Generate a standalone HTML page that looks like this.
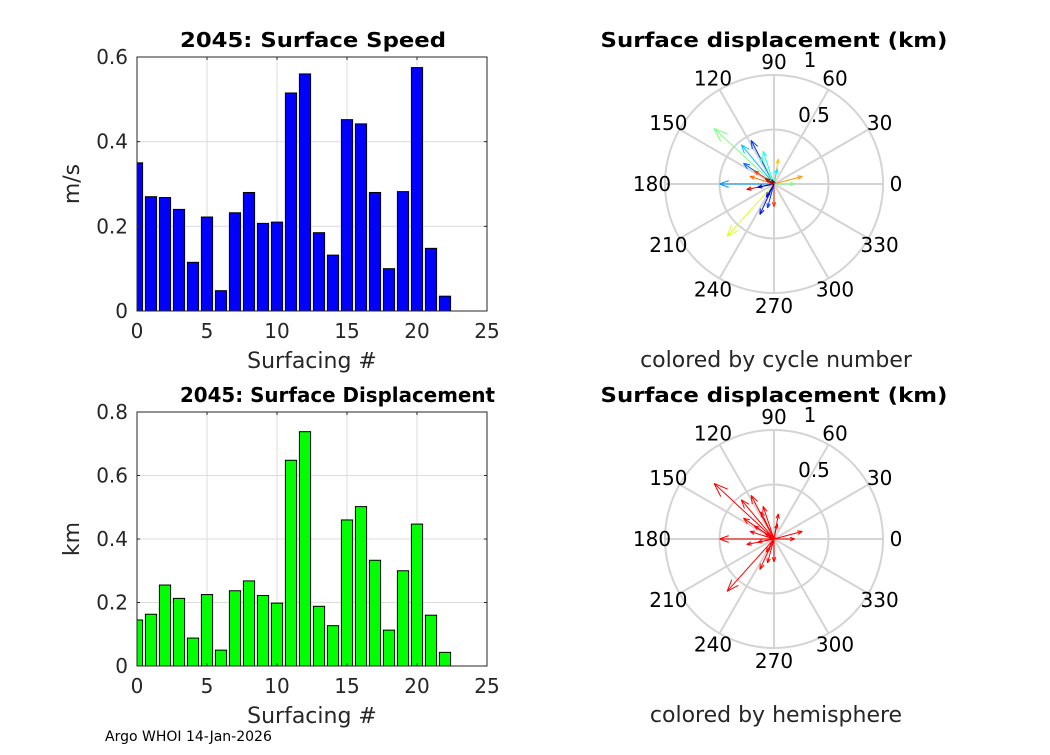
<!DOCTYPE html>
<html><head><meta charset="utf-8">
<style>
body{margin:0;background:#fff;}
svg text{font-family:"DejaVu Sans","Liberation Sans",sans-serif;}
</style></head>
<body>
<svg id="fig" width="1050" height="750" viewBox="0 0 1050 750" xmlns="http://www.w3.org/2000/svg">
<rect width="1050" height="750" fill="#fff"/>
<g id="root"></g>
<text x="105" y="741" font-size="14" fill="#000">Argo WHOI 14-Jan-2026</text>
</svg>
<script>
const surfacing = [0,1,2,3,4,5,6,7,8,9,10,11,12,13,14,15,16,17,18,19,20,21,22];
const speedValues = [0.35,0.27,0.268,0.24,0.115,0.222,0.048,0.232,0.28,0.207,0.21,0.515,0.56,0.185,0.132,0.452,0.442,0.28,0.1,0.282,0.575,0.148,0.035];
const displacementValues = [0.145,0.163,0.255,0.213,0.088,0.225,0.05,0.237,0.268,0.222,0.198,0.648,0.738,0.188,0.127,0.46,0.502,0.333,0.113,0.3,0.447,0.16,0.043];
const xTicks = [0,5,10,15,20,25];
const speedTicks = [0,0.2,0.4,0.6];
const dispTicks = [0,0.2,0.4,0.6,0.8];
const polarAngleTicks = [0,30,60,90,120,150,180,210,240,270,300,330];
// displacement vectors (east km, north km)
const vecEast = [-0.55,-0.21,-0.30,-0.28,-0.22,-0.50,-0.25,-0.15,-0.43,-0.13,0.0,0.04,0.03,0.26,0.19,-0.10,-0.18,-0.05,-0.08,-0.12,-0.06,-0.07,-0.02];
const vecNorth = [0.51,0.40,0.36,0.19,0.07,0.0,-0.05,-0.03,-0.48,-0.28,-0.21,0.23,0.14,0.07,0.0,0.30,0.12,0.02,0.05,0.25,-0.22,-0.12,0.04];
const vecCycle = [11,4,7,5,17,6,20,1,13,3,18,15,8,16,11,9,18,19,21,10,4,2,22];

const NS="http://www.w3.org/2000/svg";
const root=document.getElementById('root');
function el(tag,attrs,parent){const e=document.createElementNS(NS,tag);for(const k in attrs)e.setAttribute(k,attrs[k]);(parent||root).appendChild(e);return e;}
function txt(x,y,s,size,anchor,weight,name,parent){const t=el('text',{x:x,y:y,'font-size':size,'text-anchor':anchor||'middle','font-weight':weight||'normal',fill:'#000'},parent);t.textContent=s;


return t;}

function barChart(L,T,R,B,ymax,vals,yt,color,title,ylabel,prefix,titleW,titleX){
  const g=el('g',{});
  
  
  const xs=v=>L+(v/25)*(R-L), ys=v=>B-(v/ymax)*(B-T);
  xTicks.forEach(t=>{ if(t>0&&t<25){const l=el('line',{x1:xs(t),x2:xs(t),y1:T,y2:B,stroke:'#dcdcdc','stroke-width':1},g);}});
  yt.forEach(t=>{ if(t>0&&t<ymax){const l=el('line',{x1:L,x2:R,y1:ys(t),y2:ys(t),stroke:'#dcdcdc','stroke-width':1},g);}});
  const cp=el('clipPath',{id:prefix+'clip'},g);el('rect',{x:L,y:T,width:R-L,height:B-T},cp);
  const bg=el('g',{'clip-path':'url(#'+prefix+'clip)'},g);
  surfacing.forEach((s,i)=>{
    const x0=xs(s-0.4),x1=xs(s+0.4),y=ys(vals[i]);
    const r=el('rect',{x:x0,y:y,width:x1-x0,height:B-y,fill:color,stroke:'#000','stroke-width':1},bg);
    
    
  });
  const box=el('rect',{x:L,y:T,width:R-L,height:B-T,fill:'none',stroke:'#262626','stroke-width':1},g);
  
  xTicks.forEach(t=>{el('line',{x1:xs(t),x2:xs(t),y1:B,y2:B-3,stroke:'#262626'},g);el('line',{x1:xs(t),x2:xs(t),y1:T,y2:T+3,stroke:'#262626'},g);
    txt(xs(t),B+27,String(t),20,'middle','normal','x-tick-label',g).setAttribute('fill','#262626');});
  yt.forEach(t=>{el('line',{x1:L,x2:L+3,y1:ys(t),y2:ys(t),stroke:'#262626'},g);el('line',{x1:R,x2:R-3,y1:ys(t),y2:ys(t),stroke:'#262626'},g);
    txt(L-9,ys(t)+7,String(t),20,'end','normal','y-tick-label',g).setAttribute('fill','#262626');});
  const tt=txt(titleX,T-10,title,20,'start','bold','chart-title',g);
  tt.setAttribute('textLength',titleW);tt.setAttribute('lengthAdjust','spacingAndGlyphs');
  txt((L+R)/2,B+57,'Surfacing #',22,'middle','normal','x-axis-title',g).setAttribute('fill','#262626');
  const yl=txt(0,0,ylabel,22,'middle','normal','y-axis-title',g);
  yl.setAttribute('fill','#262626');
  yl.setAttribute('transform','translate('+(L-58)+','+((T+B)/2)+') rotate(-90)');
}
barChart(137,57,487,311,0.6,speedValues,speedTicks,'#0000ff','2045: Surface Speed','m/s','speed',266,180);
barChart(137,412,487,666,0.8,displacementValues,dispTicks,'#00ff00','2045: Surface Displacement','km','disp',315,180);

function jet(t){const r=Math.min(Math.max(1.5-Math.abs(4*t-3),0),1),gg=Math.min(Math.max(1.5-Math.abs(4*t-2),0),1),b=Math.min(Math.max(1.5-Math.abs(4*t-1),0),1);
 return 'rgb('+Math.round(r*255)+','+Math.round(gg*255)+','+Math.round(b*255)+')';}

function polar(cx,cy,R,title,caption,colorFn,prefix){
  const g=el('g',{});
  
  
  [0.5,1].forEach(r=>{const c=el('circle',{cx:cx,cy:cy,r:r*R,fill:'none',stroke:'#d4d4d4','stroke-width':2},g);});
  polarAngleTicks.forEach(a=>{const rad=a*Math.PI/180;
    const l=el('line',{x1:cx,y1:cy,x2:cx+R*Math.cos(rad),y2:cy-R*Math.sin(rad),stroke:'#d4d4d4','stroke-width':2},g);
    
    txt(cx+122*Math.cos(rad),cy-122*Math.sin(rad)+7,String(a),20,'middle','normal','angle-label',g);});
  txt(cx+40,cy-62,'0.5',20,'middle','normal','radius-label',g);
  txt(cx+36,cy-117,'1',20,'middle','normal','radius-label',g);
  vecEast.forEach((e,i)=>{
    const n=vecNorth[i];const x2=cx+e*R,y2=cy-n*R;const col=colorFn(i);
    const ag=el('g',{stroke:col,'stroke-width':1,fill:'none'},g);
    
    
    el('line',{x1:cx,y1:cy,x2:x2,y2:y2},ag);
    const ang=Math.atan2(y2-cy,x2-cx),len=Math.hypot(x2-cx,y2-cy),h=Math.max(5,len*0.18);
    [0.35,-0.35].forEach(d=>el('line',{x1:x2,y1:y2,x2:x2-h*Math.cos(ang+d),y2:y2-h*Math.sin(ang+d)},ag));
  });
  const tt=txt(cx,cy-137,title,20,'middle','bold','polar-title',g);
  tt.setAttribute('textLength',347);tt.setAttribute('lengthAdjust','spacingAndGlyphs');
  txt(cx+2,cy+183,caption,22,'middle','normal','polar-caption',g).setAttribute('fill','#262626');
}
polar(774,184,109,'Surface displacement (km)','colored by cycle number',i=>jet(vecCycle[i]/22),'cycle');
polar(774,539,109,'Surface displacement (km)','colored by hemisphere',i=>'#ff0000','hemisphere');
</script>
</body></html>
